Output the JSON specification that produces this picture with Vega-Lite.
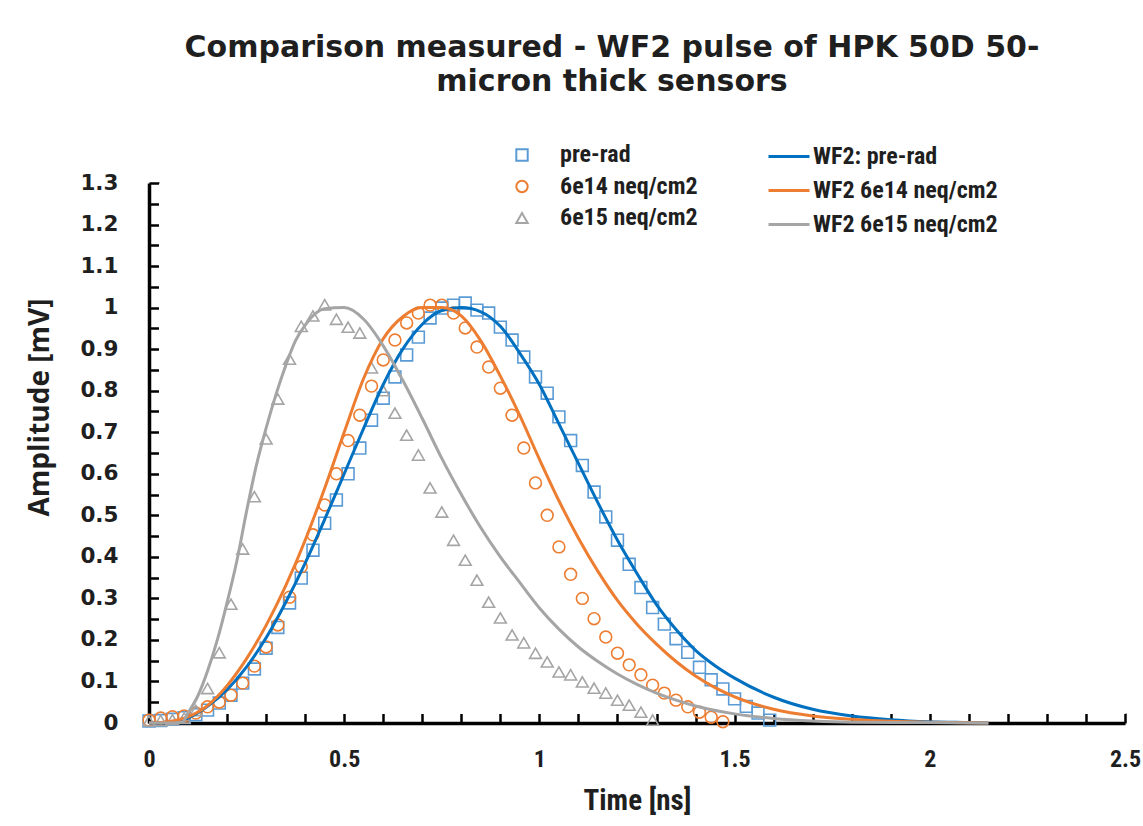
{
  "$schema": "https://vega.github.io/schema/vega-lite/v6.json",
  "width": 976,
  "height": 540,
  "autosize": {"type": "none"},
  "padding": {"left": 149, "top": 183, "right": 18, "bottom": 103},
  "background": "white",
  "title": {
    "text": ["Comparison measured - WF2 pulse of HPK 50D  50-", "micron thick sensors"],
    "font": "DejaVu Sans",
    "fontSize": 30,
    "fontWeight": "bold",
    "color": "#1f1f1f",
    "anchor": "middle",
    "frame": "group",
    "dx": -25,
    "lineHeight": 34,
    "offset": 38
  },
  "datasets": {
    "meas": [
      {"t": 0, "amp": 0.005, "series": "pre-rad"},
      {"t": 0.03, "amp": 0.006, "series": "pre-rad"},
      {"t": 0.06, "amp": 0.009, "series": "pre-rad"},
      {"t": 0.09, "amp": 0.013, "series": "pre-rad"},
      {"t": 0.12, "amp": 0.02, "series": "pre-rad"},
      {"t": 0.15, "amp": 0.031, "series": "pre-rad"},
      {"t": 0.18, "amp": 0.048, "series": "pre-rad"},
      {"t": 0.21, "amp": 0.067, "series": "pre-rad"},
      {"t": 0.24, "amp": 0.096, "series": "pre-rad"},
      {"t": 0.27, "amp": 0.13, "series": "pre-rad"},
      {"t": 0.30, "amp": 0.18, "series": "pre-rad"},
      {"t": 0.33, "amp": 0.23, "series": "pre-rad"},
      {"t": 0.36, "amp": 0.289, "series": "pre-rad"},
      {"t": 0.39, "amp": 0.349, "series": "pre-rad"},
      {"t": 0.42, "amp": 0.416, "series": "pre-rad"},
      {"t": 0.45, "amp": 0.481, "series": "pre-rad"},
      {"t": 0.48, "amp": 0.537, "series": "pre-rad"},
      {"t": 0.51, "amp": 0.60, "series": "pre-rad"},
      {"t": 0.54, "amp": 0.662, "series": "pre-rad"},
      {"t": 0.57, "amp": 0.729, "series": "pre-rad"},
      {"t": 0.60, "amp": 0.782, "series": "pre-rad"},
      {"t": 0.63, "amp": 0.833, "series": "pre-rad"},
      {"t": 0.66, "amp": 0.886, "series": "pre-rad"},
      {"t": 0.69, "amp": 0.929, "series": "pre-rad"},
      {"t": 0.72, "amp": 0.975, "series": "pre-rad"},
      {"t": 0.75, "amp": 0.999, "series": "pre-rad"},
      {"t": 0.78, "amp": 1.006, "series": "pre-rad"},
      {"t": 0.81, "amp": 1.011, "series": "pre-rad"},
      {"t": 0.84, "amp": 0.994, "series": "pre-rad"},
      {"t": 0.87, "amp": 0.987, "series": "pre-rad"},
      {"t": 0.90, "amp": 0.953, "series": "pre-rad"},
      {"t": 0.93, "amp": 0.922, "series": "pre-rad"},
      {"t": 0.96, "amp": 0.881, "series": "pre-rad"},
      {"t": 0.99, "amp": 0.833, "series": "pre-rad"},
      {"t": 1.02, "amp": 0.794, "series": "pre-rad"},
      {"t": 1.05, "amp": 0.737, "series": "pre-rad"},
      {"t": 1.08, "amp": 0.68, "series": "pre-rad"},
      {"t": 1.11, "amp": 0.62, "series": "pre-rad"},
      {"t": 1.14, "amp": 0.556, "series": "pre-rad"},
      {"t": 1.17, "amp": 0.496, "series": "pre-rad"},
      {"t": 1.20, "amp": 0.44, "series": "pre-rad"},
      {"t": 1.23, "amp": 0.382, "series": "pre-rad"},
      {"t": 1.26, "amp": 0.326, "series": "pre-rad"},
      {"t": 1.29, "amp": 0.278, "series": "pre-rad"},
      {"t": 1.32, "amp": 0.238, "series": "pre-rad"},
      {"t": 1.35, "amp": 0.203, "series": "pre-rad"},
      {"t": 1.38, "amp": 0.17, "series": "pre-rad"},
      {"t": 1.41, "amp": 0.134, "series": "pre-rad"},
      {"t": 1.44, "amp": 0.104, "series": "pre-rad"},
      {"t": 1.47, "amp": 0.082, "series": "pre-rad"},
      {"t": 1.50, "amp": 0.058, "series": "pre-rad"},
      {"t": 1.53, "amp": 0.04, "series": "pre-rad"},
      {"t": 1.56, "amp": 0.024, "series": "pre-rad"},
      {"t": 1.59, "amp": 0.007, "series": "pre-rad"},
      {"t": 0, "amp": 0.007, "series": "6e14 neq/cm2"},
      {"t": 0.03, "amp": 0.012, "series": "6e14 neq/cm2"},
      {"t": 0.06, "amp": 0.015, "series": "6e14 neq/cm2"},
      {"t": 0.09, "amp": 0.017, "series": "6e14 neq/cm2"},
      {"t": 0.12, "amp": 0.024, "series": "6e14 neq/cm2"},
      {"t": 0.15, "amp": 0.039, "series": "6e14 neq/cm2"},
      {"t": 0.18, "amp": 0.05, "series": "6e14 neq/cm2"},
      {"t": 0.21, "amp": 0.067, "series": "6e14 neq/cm2"},
      {"t": 0.24, "amp": 0.096, "series": "6e14 neq/cm2"},
      {"t": 0.27, "amp": 0.137, "series": "6e14 neq/cm2"},
      {"t": 0.30, "amp": 0.183, "series": "6e14 neq/cm2"},
      {"t": 0.33, "amp": 0.236, "series": "6e14 neq/cm2"},
      {"t": 0.36, "amp": 0.303, "series": "6e14 neq/cm2"},
      {"t": 0.39, "amp": 0.376, "series": "6e14 neq/cm2"},
      {"t": 0.42, "amp": 0.453, "series": "6e14 neq/cm2"},
      {"t": 0.45, "amp": 0.525, "series": "6e14 neq/cm2"},
      {"t": 0.48, "amp": 0.60, "series": "6e14 neq/cm2"},
      {"t": 0.51, "amp": 0.68, "series": "6e14 neq/cm2"},
      {"t": 0.54, "amp": 0.741, "series": "6e14 neq/cm2"},
      {"t": 0.57, "amp": 0.811, "series": "6e14 neq/cm2"},
      {"t": 0.60, "amp": 0.874, "series": "6e14 neq/cm2"},
      {"t": 0.63, "amp": 0.922, "series": "6e14 neq/cm2"},
      {"t": 0.66, "amp": 0.963, "series": "6e14 neq/cm2"},
      {"t": 0.69, "amp": 0.987, "series": "6e14 neq/cm2"},
      {"t": 0.72, "amp": 1.006, "series": "6e14 neq/cm2"},
      {"t": 0.75, "amp": 1.006, "series": "6e14 neq/cm2"},
      {"t": 0.78, "amp": 0.987, "series": "6e14 neq/cm2"},
      {"t": 0.81, "amp": 0.951, "series": "6e14 neq/cm2"},
      {"t": 0.84, "amp": 0.905, "series": "6e14 neq/cm2"},
      {"t": 0.87, "amp": 0.857, "series": "6e14 neq/cm2"},
      {"t": 0.90, "amp": 0.806, "series": "6e14 neq/cm2"},
      {"t": 0.93, "amp": 0.741, "series": "6e14 neq/cm2"},
      {"t": 0.96, "amp": 0.662, "series": "6e14 neq/cm2"},
      {"t": 0.99, "amp": 0.578, "series": "6e14 neq/cm2"},
      {"t": 1.02, "amp": 0.50, "series": "6e14 neq/cm2"},
      {"t": 1.05, "amp": 0.424, "series": "6e14 neq/cm2"},
      {"t": 1.08, "amp": 0.358, "series": "6e14 neq/cm2"},
      {"t": 1.11, "amp": 0.30, "series": "6e14 neq/cm2"},
      {"t": 1.14, "amp": 0.251, "series": "6e14 neq/cm2"},
      {"t": 1.17, "amp": 0.207, "series": "6e14 neq/cm2"},
      {"t": 1.20, "amp": 0.168, "series": "6e14 neq/cm2"},
      {"t": 1.23, "amp": 0.14, "series": "6e14 neq/cm2"},
      {"t": 1.26, "amp": 0.116, "series": "6e14 neq/cm2"},
      {"t": 1.29, "amp": 0.091, "series": "6e14 neq/cm2"},
      {"t": 1.32, "amp": 0.072, "series": "6e14 neq/cm2"},
      {"t": 1.35, "amp": 0.055, "series": "6e14 neq/cm2"},
      {"t": 1.38, "amp": 0.039, "series": "6e14 neq/cm2"},
      {"t": 1.41, "amp": 0.026, "series": "6e14 neq/cm2"},
      {"t": 1.44, "amp": 0.014, "series": "6e14 neq/cm2"},
      {"t": 1.47, "amp": 0.003, "series": "6e14 neq/cm2"},
      {"t": 0, "amp": 0.005, "series": "6e15 neq/cm2"},
      {"t": 0.03, "amp": 0.006, "series": "6e15 neq/cm2"},
      {"t": 0.06, "amp": 0.008, "series": "6e15 neq/cm2"},
      {"t": 0.09, "amp": 0.012, "series": "6e15 neq/cm2"},
      {"t": 0.12, "amp": 0.03, "series": "6e15 neq/cm2"},
      {"t": 0.15, "amp": 0.083, "series": "6e15 neq/cm2"},
      {"t": 0.18, "amp": 0.169, "series": "6e15 neq/cm2"},
      {"t": 0.21, "amp": 0.286, "series": "6e15 neq/cm2"},
      {"t": 0.24, "amp": 0.419, "series": "6e15 neq/cm2"},
      {"t": 0.27, "amp": 0.545, "series": "6e15 neq/cm2"},
      {"t": 0.30, "amp": 0.684, "series": "6e15 neq/cm2"},
      {"t": 0.33, "amp": 0.78, "series": "6e15 neq/cm2"},
      {"t": 0.36, "amp": 0.876, "series": "6e15 neq/cm2"},
      {"t": 0.39, "amp": 0.955, "series": "6e15 neq/cm2"},
      {"t": 0.42, "amp": 0.98, "series": "6e15 neq/cm2"},
      {"t": 0.45, "amp": 1.007, "series": "6e15 neq/cm2"},
      {"t": 0.48, "amp": 0.972, "series": "6e15 neq/cm2"},
      {"t": 0.51, "amp": 0.953, "series": "6e15 neq/cm2"},
      {"t": 0.54, "amp": 0.939, "series": "6e15 neq/cm2"},
      {"t": 0.57, "amp": 0.855, "series": "6e15 neq/cm2"},
      {"t": 0.60, "amp": 0.80, "series": "6e15 neq/cm2"},
      {"t": 0.63, "amp": 0.746, "series": "6e15 neq/cm2"},
      {"t": 0.66, "amp": 0.693, "series": "6e15 neq/cm2"},
      {"t": 0.69, "amp": 0.645, "series": "6e15 neq/cm2"},
      {"t": 0.72, "amp": 0.566, "series": "6e15 neq/cm2"},
      {"t": 0.75, "amp": 0.508, "series": "6e15 neq/cm2"},
      {"t": 0.78, "amp": 0.44, "series": "6e15 neq/cm2"},
      {"t": 0.81, "amp": 0.392, "series": "6e15 neq/cm2"},
      {"t": 0.84, "amp": 0.344, "series": "6e15 neq/cm2"},
      {"t": 0.87, "amp": 0.291, "series": "6e15 neq/cm2"},
      {"t": 0.90, "amp": 0.253, "series": "6e15 neq/cm2"},
      {"t": 0.93, "amp": 0.212, "series": "6e15 neq/cm2"},
      {"t": 0.96, "amp": 0.193, "series": "6e15 neq/cm2"},
      {"t": 0.99, "amp": 0.168, "series": "6e15 neq/cm2"},
      {"t": 1.02, "amp": 0.147, "series": "6e15 neq/cm2"},
      {"t": 1.05, "amp": 0.123, "series": "6e15 neq/cm2"},
      {"t": 1.08, "amp": 0.116, "series": "6e15 neq/cm2"},
      {"t": 1.11, "amp": 0.099, "series": "6e15 neq/cm2"},
      {"t": 1.14, "amp": 0.084, "series": "6e15 neq/cm2"},
      {"t": 1.17, "amp": 0.072, "series": "6e15 neq/cm2"},
      {"t": 1.20, "amp": 0.055, "series": "6e15 neq/cm2"},
      {"t": 1.23, "amp": 0.043, "series": "6e15 neq/cm2"},
      {"t": 1.26, "amp": 0.026, "series": "6e15 neq/cm2"},
      {"t": 1.29, "amp": 0.007, "series": "6e15 neq/cm2"}
    ],
    "wf2": [
      {"t": 0, "amp": 0, "series": "WF2: pre-rad"},
      {"t": 0.05, "amp": 0.002, "series": "WF2: pre-rad"},
      {"t": 0.1, "amp": 0.012, "series": "WF2: pre-rad"},
      {"t": 0.15, "amp": 0.04, "series": "WF2: pre-rad"},
      {"t": 0.2, "amp": 0.08, "series": "WF2: pre-rad"},
      {"t": 0.25, "amp": 0.135, "series": "WF2: pre-rad"},
      {"t": 0.3, "amp": 0.205, "series": "WF2: pre-rad"},
      {"t": 0.35, "amp": 0.29, "series": "WF2: pre-rad"},
      {"t": 0.4, "amp": 0.385, "series": "WF2: pre-rad"},
      {"t": 0.45, "amp": 0.49, "series": "WF2: pre-rad"},
      {"t": 0.5, "amp": 0.6, "series": "WF2: pre-rad"},
      {"t": 0.55, "amp": 0.71, "series": "WF2: pre-rad"},
      {"t": 0.6, "amp": 0.815, "series": "WF2: pre-rad"},
      {"t": 0.65, "amp": 0.9, "series": "WF2: pre-rad"},
      {"t": 0.7, "amp": 0.96, "series": "WF2: pre-rad"},
      {"t": 0.75, "amp": 0.993, "series": "WF2: pre-rad"},
      {"t": 0.8, "amp": 1.0, "series": "WF2: pre-rad"},
      {"t": 0.85, "amp": 0.99, "series": "WF2: pre-rad"},
      {"t": 0.9, "amp": 0.955, "series": "WF2: pre-rad"},
      {"t": 0.95, "amp": 0.89, "series": "WF2: pre-rad"},
      {"t": 1.0, "amp": 0.815, "series": "WF2: pre-rad"},
      {"t": 1.05, "amp": 0.72, "series": "WF2: pre-rad"},
      {"t": 1.1, "amp": 0.625, "series": "WF2: pre-rad"},
      {"t": 1.15, "amp": 0.53, "series": "WF2: pre-rad"},
      {"t": 1.2, "amp": 0.44, "series": "WF2: pre-rad"},
      {"t": 1.25, "amp": 0.36, "series": "WF2: pre-rad"},
      {"t": 1.3, "amp": 0.285, "series": "WF2: pre-rad"},
      {"t": 1.35, "amp": 0.225, "series": "WF2: pre-rad"},
      {"t": 1.4, "amp": 0.175, "series": "WF2: pre-rad"},
      {"t": 1.45, "amp": 0.138, "series": "WF2: pre-rad"},
      {"t": 1.5, "amp": 0.108, "series": "WF2: pre-rad"},
      {"t": 1.6, "amp": 0.062, "series": "WF2: pre-rad"},
      {"t": 1.7, "amp": 0.033, "series": "WF2: pre-rad"},
      {"t": 1.8, "amp": 0.017, "series": "WF2: pre-rad"},
      {"t": 1.9, "amp": 0.008, "series": "WF2: pre-rad"},
      {"t": 2.0, "amp": 0.003, "series": "WF2: pre-rad"},
      {"t": 2.1, "amp": 0.001, "series": "WF2: pre-rad"},
      {"t": 2.15, "amp": 0, "series": "WF2: pre-rad"},
      {"t": 0, "amp": 0, "series": "WF2 6e14 neq/cm2"},
      {"t": 0.05, "amp": 0.003, "series": "WF2 6e14 neq/cm2"},
      {"t": 0.1, "amp": 0.015, "series": "WF2 6e14 neq/cm2"},
      {"t": 0.15, "amp": 0.042, "series": "WF2 6e14 neq/cm2"},
      {"t": 0.2, "amp": 0.09, "series": "WF2 6e14 neq/cm2"},
      {"t": 0.25, "amp": 0.155, "series": "WF2 6e14 neq/cm2"},
      {"t": 0.3, "amp": 0.235, "series": "WF2 6e14 neq/cm2"},
      {"t": 0.35, "amp": 0.33, "series": "WF2 6e14 neq/cm2"},
      {"t": 0.4, "amp": 0.44, "series": "WF2 6e14 neq/cm2"},
      {"t": 0.45, "amp": 0.565, "series": "WF2 6e14 neq/cm2"},
      {"t": 0.5, "amp": 0.7, "series": "WF2 6e14 neq/cm2"},
      {"t": 0.55, "amp": 0.83, "series": "WF2 6e14 neq/cm2"},
      {"t": 0.6, "amp": 0.925, "series": "WF2 6e14 neq/cm2"},
      {"t": 0.65, "amp": 0.978, "series": "WF2 6e14 neq/cm2"},
      {"t": 0.7, "amp": 1.0, "series": "WF2 6e14 neq/cm2"},
      {"t": 0.75, "amp": 1.0, "series": "WF2 6e14 neq/cm2"},
      {"t": 0.8, "amp": 0.98, "series": "WF2 6e14 neq/cm2"},
      {"t": 0.85, "amp": 0.92, "series": "WF2 6e14 neq/cm2"},
      {"t": 0.9, "amp": 0.835, "series": "WF2 6e14 neq/cm2"},
      {"t": 0.95, "amp": 0.74, "series": "WF2 6e14 neq/cm2"},
      {"t": 1.0, "amp": 0.635, "series": "WF2 6e14 neq/cm2"},
      {"t": 1.05, "amp": 0.535, "series": "WF2 6e14 neq/cm2"},
      {"t": 1.1, "amp": 0.445, "series": "WF2 6e14 neq/cm2"},
      {"t": 1.15, "amp": 0.365, "series": "WF2 6e14 neq/cm2"},
      {"t": 1.2, "amp": 0.295, "series": "WF2 6e14 neq/cm2"},
      {"t": 1.25, "amp": 0.238, "series": "WF2 6e14 neq/cm2"},
      {"t": 1.3, "amp": 0.19, "series": "WF2 6e14 neq/cm2"},
      {"t": 1.35, "amp": 0.148, "series": "WF2 6e14 neq/cm2"},
      {"t": 1.4, "amp": 0.113, "series": "WF2 6e14 neq/cm2"},
      {"t": 1.45, "amp": 0.085, "series": "WF2 6e14 neq/cm2"},
      {"t": 1.5, "amp": 0.063, "series": "WF2 6e14 neq/cm2"},
      {"t": 1.6, "amp": 0.033, "series": "WF2 6e14 neq/cm2"},
      {"t": 1.7, "amp": 0.017, "series": "WF2 6e14 neq/cm2"},
      {"t": 1.8, "amp": 0.009, "series": "WF2 6e14 neq/cm2"},
      {"t": 1.9, "amp": 0.004, "series": "WF2 6e14 neq/cm2"},
      {"t": 2.0, "amp": 0.002, "series": "WF2 6e14 neq/cm2"},
      {"t": 2.15, "amp": 0, "series": "WF2 6e14 neq/cm2"},
      {"t": 0, "amp": 0, "series": "WF2 6e15 neq/cm2"},
      {"t": 0.05, "amp": 0, "series": "WF2 6e15 neq/cm2"},
      {"t": 0.085, "amp": 0.002, "series": "WF2 6e15 neq/cm2"},
      {"t": 0.1, "amp": 0.024, "series": "WF2 6e15 neq/cm2"},
      {"t": 0.125, "amp": 0.065, "series": "WF2 6e15 neq/cm2"},
      {"t": 0.15, "amp": 0.125, "series": "WF2 6e15 neq/cm2"},
      {"t": 0.175, "amp": 0.2, "series": "WF2 6e15 neq/cm2"},
      {"t": 0.2, "amp": 0.29, "series": "WF2 6e15 neq/cm2"},
      {"t": 0.225, "amp": 0.39, "series": "WF2 6e15 neq/cm2"},
      {"t": 0.25, "amp": 0.51, "series": "WF2 6e15 neq/cm2"},
      {"t": 0.275, "amp": 0.62, "series": "WF2 6e15 neq/cm2"},
      {"t": 0.3, "amp": 0.71, "series": "WF2 6e15 neq/cm2"},
      {"t": 0.325, "amp": 0.79, "series": "WF2 6e15 neq/cm2"},
      {"t": 0.35, "amp": 0.86, "series": "WF2 6e15 neq/cm2"},
      {"t": 0.375, "amp": 0.92, "series": "WF2 6e15 neq/cm2"},
      {"t": 0.4, "amp": 0.958, "series": "WF2 6e15 neq/cm2"},
      {"t": 0.45, "amp": 0.997, "series": "WF2 6e15 neq/cm2"},
      {"t": 0.5, "amp": 1.0, "series": "WF2 6e15 neq/cm2"},
      {"t": 0.55, "amp": 0.972, "series": "WF2 6e15 neq/cm2"},
      {"t": 0.6, "amp": 0.908, "series": "WF2 6e15 neq/cm2"},
      {"t": 0.65, "amp": 0.825, "series": "WF2 6e15 neq/cm2"},
      {"t": 0.7, "amp": 0.733, "series": "WF2 6e15 neq/cm2"},
      {"t": 0.75, "amp": 0.637, "series": "WF2 6e15 neq/cm2"},
      {"t": 0.8, "amp": 0.55, "series": "WF2 6e15 neq/cm2"},
      {"t": 0.85, "amp": 0.47, "series": "WF2 6e15 neq/cm2"},
      {"t": 0.9, "amp": 0.4, "series": "WF2 6e15 neq/cm2"},
      {"t": 0.95, "amp": 0.338, "series": "WF2 6e15 neq/cm2"},
      {"t": 1.0, "amp": 0.277, "series": "WF2 6e15 neq/cm2"},
      {"t": 1.05, "amp": 0.226, "series": "WF2 6e15 neq/cm2"},
      {"t": 1.1, "amp": 0.183, "series": "WF2 6e15 neq/cm2"},
      {"t": 1.15, "amp": 0.148, "series": "WF2 6e15 neq/cm2"},
      {"t": 1.2, "amp": 0.118, "series": "WF2 6e15 neq/cm2"},
      {"t": 1.25, "amp": 0.093, "series": "WF2 6e15 neq/cm2"},
      {"t": 1.3, "amp": 0.072, "series": "WF2 6e15 neq/cm2"},
      {"t": 1.35, "amp": 0.055, "series": "WF2 6e15 neq/cm2"},
      {"t": 1.4, "amp": 0.041, "series": "WF2 6e15 neq/cm2"},
      {"t": 1.5, "amp": 0.022, "series": "WF2 6e15 neq/cm2"},
      {"t": 1.6, "amp": 0.011, "series": "WF2 6e15 neq/cm2"},
      {"t": 1.7, "amp": 0.005, "series": "WF2 6e15 neq/cm2"},
      {"t": 1.8, "amp": 0.002, "series": "WF2 6e15 neq/cm2"},
      {"t": 2.0, "amp": 0.001, "series": "WF2 6e15 neq/cm2"},
      {"t": 2.15, "amp": 0, "series": "WF2 6e15 neq/cm2"}
    ]
  },
  "layer": [
    {
      "data": {"name": "meas"},
      "mark": {"type": "point", "filled": false, "strokeWidth": 1.6, "size": 140, "opacity": 1},
      "encoding": {
        "x": {
          "field": "t",
          "type": "quantitative",
          "scale": {"domain": [0, 2.5], "nice": false},
          "axis": {
            "orient": "bottom",
            "title": "Time [ns]",
            "values": [0, 0.5, 1, 1.5, 2, 2.5],
            "labelExpr": "format(datum.value, '~g')",
            "ticks": true,
            "tickSize": 0,
            "domain": true,
            "domainColor": "black",
            "domainWidth": 3.5,
            "labelFont": "Liberation Sans Narrow, Roboto Condensed, Roboto, sans-serif",
            "labelFontSize": 24,
            "labelFontWeight": "bold",
            "labelPadding": 24,
            "labelOverlap": false,
            "labelFlush": false,
            "titleFont": "Liberation Sans Narrow, Roboto Condensed, Roboto, sans-serif",
            "titleFontSize": 29,
            "titleFontWeight": "bold",
            "titleBaseline": "middle",
            "titleY": 77
          }
        },
        "y": {
          "field": "amp",
          "type": "quantitative",
          "scale": {"domain": [0, 1.3], "nice": false},
          "axis": {
            "orient": "left",
            "title": "Amplitude [mV]",
            "values": [0, 0.1, 0.2, 0.3, 0.4, 0.5, 0.6, 0.7, 0.8, 0.9, 1, 1.1, 1.2, 1.3],
            "labelExpr": "format(datum.value, '~g')",
            "ticks": true,
            "tickSize": 0,
            "domain": true,
            "domainColor": "black",
            "domainWidth": 3.5,
            "labelFont": "DejaVu Sans",
            "labelFontSize": 21.5,
            "labelFontWeight": "bold",
            "labelPadding": 31,
            "labelOverlap": false,
            "labelFlush": false,
            "titleFont": "Open Sans",
            "titleFontSize": 28,
            "titleFontWeight": "bold",
            "titleBaseline": "middle",
            "titleX": -109,
            "titleY": 224
          }
        },
        "color": {
          "field": "series",
          "type": "nominal",
          "scale": {"domain": ["pre-rad", "6e14 neq/cm2", "6e15 neq/cm2"], "range": ["#5B9BD5", "#ED7D31", "#A5A5A5"]},
          "legend": {
            "orient": "none",
            "legendX": 361,
            "legendY": -40,
            "title": null,
            "padding": 0,
            "labelFont": "Liberation Sans Narrow, Roboto Condensed, Roboto, sans-serif",
            "labelFontSize": 24,
            "labelFontWeight": "bold",
            "labelColor": "#1f1f1f",
            "labelOffset": 26,
            "labelLimit": 400,
            "rowPadding": 7.5,
            "symbolSize": 130,
            "symbolStrokeWidth": 2
          }
        },
        "shape": {
          "field": "series",
          "type": "nominal",
          "scale": {"domain": ["pre-rad", "6e14 neq/cm2", "6e15 neq/cm2"], "range": ["square", "circle", "triangle-up"]},
          "legend": {
            "orient": "none",
            "legendX": 361,
            "legendY": -40,
            "title": null,
            "padding": 0,
            "labelFont": "Liberation Sans Narrow, Roboto Condensed, Roboto, sans-serif",
            "labelFontSize": 24,
            "labelFontWeight": "bold",
            "labelColor": "#1f1f1f",
            "labelOffset": 26,
            "labelLimit": 400,
            "rowPadding": 7.5,
            "symbolSize": 130,
            "symbolStrokeWidth": 2
          }
        }
      }
    },
    {
      "data": {"name": "wf2"},
      "mark": {"type": "line", "strokeWidth": 3, "interpolate": "monotone"},
      "encoding": {
        "x": {
          "field": "t",
          "type": "quantitative",
          "scale": {"domain": [0, 2.5], "nice": false},
          "axis": {
            "orient": "bottom",
            "offset": -10,
            "title": null,
            "values": [0, 0.1, 0.2, 0.3, 0.4, 0.5, 0.6, 0.7, 0.8, 0.9, 1, 1.1, 1.2, 1.3, 1.4, 1.5, 1.6, 1.7, 1.8, 1.9, 2, 2.1, 2.2, 2.3, 2.4, 2.5],
            "labels": false,
            "domain": true,
            "domainColor": "white",
            "ticks": true,
            "tickSize": 10,
            "tickColor": "black",
            "tickWidth": 2.5
          }
        },
        "y": {
          "field": "amp",
          "type": "quantitative",
          "scale": {"domain": [0, 1.3], "nice": false},
          "axis": {
            "orient": "left",
            "offset": -10,
            "title": null,
            "values": [0, 0.05, 0.1, 0.15, 0.2, 0.25, 0.3, 0.35, 0.4, 0.45, 0.5, 0.55, 0.6, 0.65, 0.7, 0.75, 0.8, 0.85, 0.9, 0.95, 1, 1.05, 1.1, 1.15, 1.2, 1.25, 1.3],
            "labels": false,
            "domain": true,
            "domainColor": "white",
            "ticks": true,
            "tickSize": 10,
            "tickColor": "black",
            "tickWidth": 2.5
          }
        },
        "color": {
          "field": "series",
          "type": "nominal",
          "scale": {"domain": ["WF2: pre-rad", "WF2 6e14 neq/cm2", "WF2 6e15 neq/cm2"], "range": ["#0070C0", "#ED7D31", "#A5A5A5"]},
          "legend": {
            "orient": "none",
            "legendX": 618,
            "legendY": -48.5,
            "title": null,
            "padding": 0,
            "labelFont": "Liberation Sans Narrow, Roboto Condensed, Roboto, sans-serif",
            "labelFontSize": 24,
            "labelFontWeight": "bold",
            "labelColor": "#1f1f1f",
            "labelOffset": 2,
            "labelLimit": 400,
            "rowPadding": -9.5,
            "symbolType": "stroke",
            "symbolSize": 1681,
            "symbolStrokeWidth": 3
          }
        }
      }
    }
  ],
  "resolve": {
    "scale": {"color": "independent", "shape": "independent"},
    "legend": {"color": "independent", "shape": "independent"},
    "axis": {"x": "independent", "y": "independent"}
  },
  "config": {
    "view": {"stroke": null},
    "axis": {
      "grid": false,
      "labelColor": "#1f1f1f",
      "titleColor": "#1f1f1f"
    }
  }
}
